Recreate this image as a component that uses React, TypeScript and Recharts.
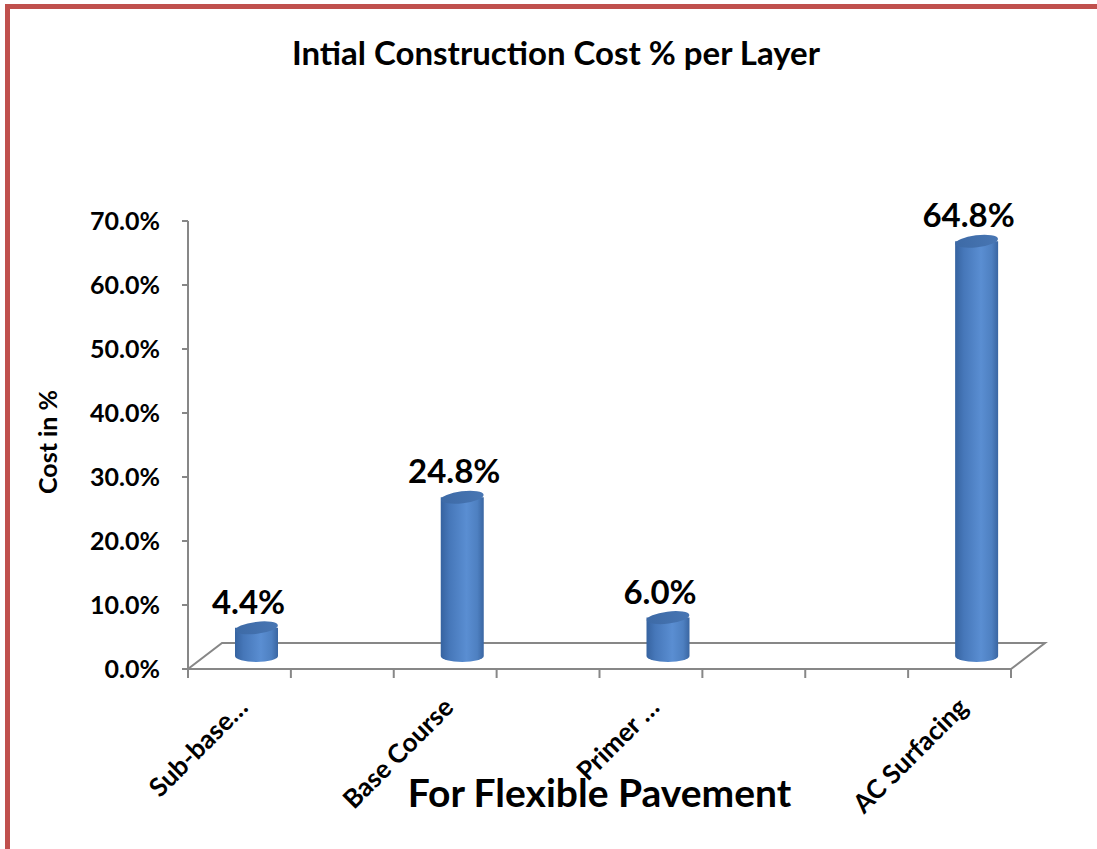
import { BarChart, Bar, XAxis, YAxis, ReferenceArea, LabelList, Label } from 'recharts'

const categories = ['Sub-base…', '', 'Base Course', '', 'Primer …', '', '', 'AC Surfacing']
const costPercent = [4.4, null, 24.8, null, 6.0, null, null, 64.8]
const yTicks = [0, 10, 20, 30, 40, 50, 60, 70]

const data = categories.map((name, i) => ({ name, cost: costPercent[i] }))

const FONT = 'Lato, "Open Sans", sans-serif'
const AXIS_GREY = '#878787'
// 3d depth of the floor, bars sit half way back
const DEPTH_X = 34
const DEPTH_Y = 26
const RY = 6

function Floor(props: any) {
  const { x, y, width } = props
  const pts = [
    [x, y],
    [x + width, y],
    [x + width + DEPTH_X, y - DEPTH_Y],
    [x + DEPTH_X, y - DEPTH_Y],
  ]
  return (
    <polygon
      points={pts.map((p) => p.join(',')).join(' ')}
      fill="#fff"
      stroke={AXIS_GREY}
      strokeWidth={2}
    />
  )
}

function Cylinder(props: any) {
  const { x, y, width, height } = props
  if (height == null || isNaN(height)) return null
  const rx = width / 2
  const cx = x + rx + DEPTH_X / 2
  const left = cx - rx
  const right = cx + rx
  const top = y - DEPTH_Y / 2
  const bottom = y + height - DEPTH_Y / 2
  return (
    <g>
      <path
        d={`M${left},${top} L${left},${bottom} A${rx},${RY} 0 0 0 ${right},${bottom} L${right},${top} Z`}
        fill="url(#cylSide)"
      />
      <ellipse cx={cx} cy={top} rx={rx} ry={RY} fill="url(#cylTop)" transform={`rotate(-7 ${cx} ${top})`} />
    </g>
  )
}

function ValueLabel(props: any) {
  const { x, y, width, value } = props
  if (value == null) return null
  return (
    <text
      x={x + width / 2 + 9}
      y={y - 40}
      textAnchor="middle"
      dominantBaseline="central"
      fontFamily={FONT}
      fontWeight={700}
      fontSize={33}
      fill="#000"
    >
      {`${Number(value).toFixed(1)}%`}
    </text>
  )
}

function CategoryTick(props: any) {
  const { x, y, payload, index } = props
  const half = payload.offset || 823 / categories.length / 2
  const last = index === categories.length - 1
  const tx = x + 10
  const ty = y + 40
  return (
    <g>
      <line x1={x - half} y1={y} x2={x - half} y2={y + 9} stroke={AXIS_GREY} strokeWidth={2} />
      {last && <line x1={x + half} y1={y} x2={x + half} y2={y + 9} stroke={AXIS_GREY} strokeWidth={2} />}
      {payload.value && (
        <text
          x={tx}
          y={ty}
          textAnchor="end"
          transform={`rotate(-45 ${tx} ${ty})`}
          fontFamily={FONT}
          fontWeight={700}
          fontSize={26}
          fill="#000"
        >
          {payload.value}
        </text>
      )}
    </g>
  )
}

export default function App() {
  return (
    <div
      style={{
        position: 'absolute',
        top: 0,
        left: 0,
        width: 1097,
        height: 849,
        overflow: 'hidden',
        background: '#fff',
        fontFamily: FONT,
      }}
    >
      <div
        style={{
          position: 'absolute',
          left: 5,
          top: 4,
          width: 1300,
          height: 1000,
          borderTop: '5px solid #C0504D',
          borderLeft: '5px solid #C0504D',
        }}
      />
      <div
        style={{
          position: 'absolute',
          left: 0,
          width: 1112,
          top: 32,
          textAlign: 'center',
          fontSize: 33,
          fontWeight: 700,
          color: '#000',
        }}
      >
        Intial Construction Cost % per Layer
      </div>
      <BarChart
        width={1097}
        height={849}
        data={data}
        margin={{ top: 221, right: 86, bottom: 80, left: 108 }}
        style={{ position: 'absolute', top: 0, left: 0 }}
      >
        <defs>
          <linearGradient id="cylSide" x1="0" y1="0" x2="1" y2="0">
            <stop offset="0%" stopColor="#3663a0" />
            <stop offset="20%" stopColor="#4677b9" />
            <stop offset="60%" stopColor="#5a8ed2" />
            <stop offset="85%" stopColor="#4e80c1" />
            <stop offset="100%" stopColor="#3a66a2" />
          </linearGradient>
          <linearGradient id="cylTop" x1="0" y1="0" x2="1" y2="0">
            <stop offset="0%" stopColor="#3d6aa6" />
            <stop offset="100%" stopColor="#4876b3" />
          </linearGradient>
        </defs>
        <ReferenceArea y1={0} y2={0} shape={Floor} ifOverflow="visible" />
        <XAxis
          dataKey="name"
          interval={0}
          height={100}
          tickSize={0}
          tickMargin={0}
          tickLine={false}
          axisLine={{ stroke: AXIS_GREY, strokeWidth: 2 }}
          tick={CategoryTick}
        >
          <Label
            content={(p: any) => {
              const vb = p.viewBox
              return (
                <text
                  x={vb.x + vb.width / 2}
                  y={807}
                  textAnchor="middle"
                  fontFamily={FONT}
                  fontWeight={700}
                  fontSize={39}
                  fill="#000"
                >
                  For Flexible Pavement
                </text>
              )
            }}
          />
        </XAxis>
        <YAxis
          width={80}
          domain={[0, 70]}
          ticks={yTicks}
          interval={0}
          tickSize={6}
          tickMargin={22}
          tickFormatter={(v: number) => `${v.toFixed(1)}%`}
          tick={{ fill: '#000', fontSize: 25, fontWeight: 700, fontFamily: FONT }}
          tickLine={{ stroke: AXIS_GREY, strokeWidth: 2 }}
          axisLine={{ stroke: AXIS_GREY, strokeWidth: 2 }}
        >
          <Label
            content={(p: any) => {
              const vb = p.viewBox
              const cx = vb.x - 61
              const cy = vb.y + vb.height / 2 - 3
              return (
                <text
                  x={cx}
                  y={cy}
                  textAnchor="middle"
                  dominantBaseline="central"
                  transform={`rotate(-90 ${cx} ${cy})`}
                  fontFamily={FONT}
                  fontWeight={700}
                  fontSize={25}
                  fill="#000"
                >
                  Cost in %
                </text>
              )
            }}
          />
        </YAxis>
        <Bar dataKey="cost" barSize={43} shape={Cylinder} isAnimationActive={false}>
          <LabelList dataKey="cost" content={ValueLabel} />
        </Bar>
      </BarChart>
    </div>
  )
}
